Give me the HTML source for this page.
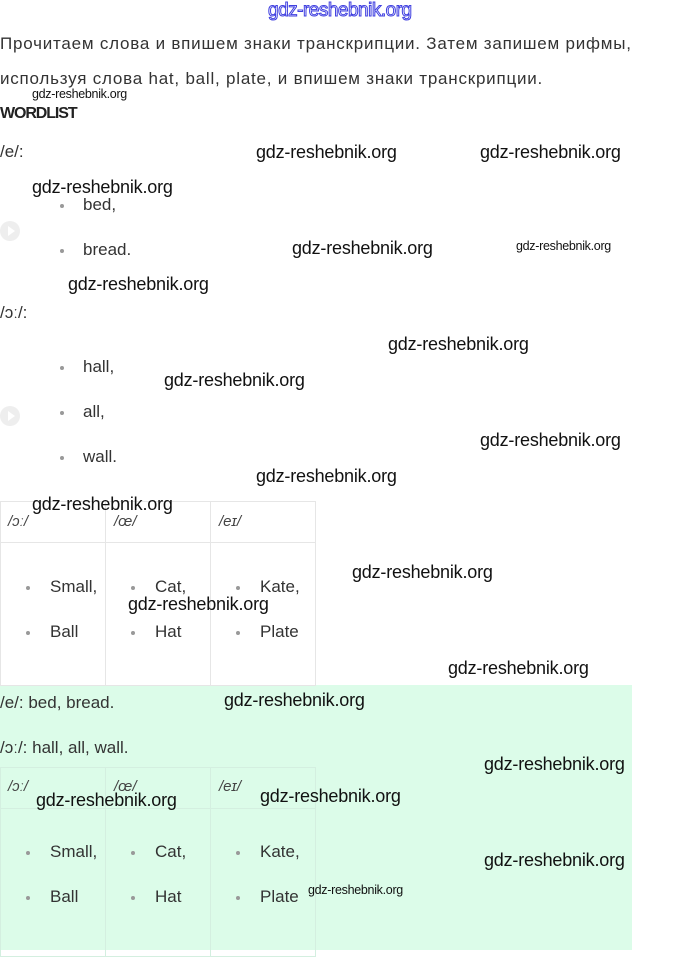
<!DOCTYPE html>
<html><head><meta charset="utf-8"><style>
*{margin:0;padding:0;box-sizing:border-box}
body{width:680px;height:950px;background:#fff;position:relative;overflow:hidden;font-family:"Liberation Sans","DejaVu Sans",sans-serif;color:#333}
.t{position:absolute;white-space:nowrap;font-size:17px;line-height:20px}
.w{position:absolute;white-space:nowrap;font-size:18px;line-height:20px;color:#111;font-family:"Liberation Sans",sans-serif;letter-spacing:-0.2px}
.ws{position:absolute;white-space:nowrap;font-size:12.5px;line-height:14px;color:#111;letter-spacing:-0.3px}
.b{position:absolute;width:4px;height:4px;background:#999;border-radius:50%}
.c{position:absolute;width:20px;height:20px;border-radius:50%;background:#eee}
.c:after{content:"";position:absolute;left:8px;top:5px;border-left:7px solid #fff;border-top:5px solid transparent;border-bottom:5px solid transparent}
.tb{position:absolute;left:0;width:316px;border:1px solid #e6e6e6}
.vl{position:absolute;width:1px;background:#e6e6e6}
.hl{position:absolute;height:1px;background:#e6e6e6}
.h{position:absolute;font-size:15px;font-style:italic;line-height:16px;color:#444}
</style></head><body>
<div style="position:absolute;left:0;top:685px;width:632px;height:265px;background:#dcfce9"></div>

<div class="w" style="left:268px;top:1px;color:#fff;-webkit-text-stroke:1px #4040e0;font-size:19px;letter-spacing:-0.5px">gdz-reshebnik.org</div>
<div class="t" style="left:0;top:34px;letter-spacing:0.78px">Прочитаем слова и впишем знаки транскрипции. Затем запишем рифмы,</div>
<div class="t" style="left:0;top:69px;letter-spacing:0.78px">используя слова hat, ball, plate, и впишем знаки транскрипции.</div>
<div class="ws" style="left:32px;top:87px">gdz-reshebnik.org</div>
<div class="t" style="left:0;top:104px;font-weight:bold;font-size:16px;letter-spacing:-1.1px;color:#222">WORDLIST</div>

<div class="t" style="left:0;top:142px">/e/:</div>
<div class="w" style="left:256px;top:142px">gdz-reshebnik.org</div>
<div class="w" style="left:480px;top:142px">gdz-reshebnik.org</div>
<div class="w" style="left:32px;top:177px">gdz-reshebnik.org</div>
<div class="b" style="left:60px;top:204px"></div><div class="t" style="left:83px;top:195px">bed,</div>
<div class="c" style="left:0;top:221px"></div>
<div class="b" style="left:60px;top:249px"></div><div class="t" style="left:83px;top:240px">bread.</div>
<div class="w" style="left:292px;top:238px">gdz-reshebnik.org</div>
<div class="ws" style="left:516px;top:239px">gdz-reshebnik.org</div>
<div class="w" style="left:68px;top:274px">gdz-reshebnik.org</div>

<div class="t" style="left:0;top:303px">/ɔː/:</div>
<div class="w" style="left:388px;top:334px">gdz-reshebnik.org</div>
<div class="b" style="left:60px;top:366px"></div><div class="t" style="left:83px;top:357px">hall,</div>
<div class="w" style="left:164px;top:370px">gdz-reshebnik.org</div>
<div class="c" style="left:0;top:406px"></div>
<div class="b" style="left:60px;top:411px"></div><div class="t" style="left:83px;top:402px">all,</div>
<div class="w" style="left:480px;top:430px">gdz-reshebnik.org</div>
<div class="b" style="left:60px;top:456px"></div><div class="t" style="left:83px;top:447px">wall.</div>
<div class="w" style="left:256px;top:466px">gdz-reshebnik.org</div>

<div class="tb" style="top:501px;height:185px"></div>
<div class="vl" style="left:105px;top:501px;height:185px"></div>
<div class="vl" style="left:210px;top:501px;height:185px"></div>
<div class="hl" style="left:0;top:542px;width:316px"></div>
<div class="h" style="left:8px;top:514px">/ɔː/</div>
<div class="h" style="left:114px;top:514px">/œ/</div>
<div class="h" style="left:219px;top:514px">/eɪ/</div>
<div class="b" style="left:26px;top:586px"></div><div class="t" style="left:50px;top:577px">Small,</div>
<div class="b" style="left:131px;top:586px"></div><div class="t" style="left:155px;top:577px">Cat,</div>
<div class="b" style="left:236px;top:586px"></div><div class="t" style="left:260px;top:577px">Kate,</div>
<div class="b" style="left:26px;top:631px"></div><div class="t" style="left:50px;top:622px">Ball</div>
<div class="b" style="left:131px;top:631px"></div><div class="t" style="left:155px;top:622px">Hat</div>
<div class="b" style="left:236px;top:631px"></div><div class="t" style="left:260px;top:622px">Plate</div>
<div class="w" style="left:32px;top:494px">gdz-reshebnik.org</div>
<div class="w" style="left:352px;top:562px">gdz-reshebnik.org</div>
<div class="w" style="left:128px;top:594px">gdz-reshebnik.org</div>
<div class="w" style="left:448px;top:658px">gdz-reshebnik.org</div>

<div class="t" style="left:0;top:693px">/e/: bed, bread.</div>
<div class="w" style="left:224px;top:690px">gdz-reshebnik.org</div>
<div class="t" style="left:0;top:738px">/ɔː/: hall, all, wall.</div>
<div class="w" style="left:484px;top:754px">gdz-reshebnik.org</div>

<div class="tb" style="top:767px;height:190px;border-color:#d4efe0"></div>
<div class="vl" style="left:105px;top:767px;height:190px;background:#d4efe0"></div>
<div class="vl" style="left:210px;top:767px;height:190px;background:#d4efe0"></div>
<div class="hl" style="left:0;top:808px;width:316px;background:#d4efe0"></div>
<div class="h" style="left:8px;top:779px">/ɔː/</div>
<div class="h" style="left:114px;top:779px">/œ/</div>
<div class="h" style="left:219px;top:779px">/eɪ/</div>
<div class="b" style="left:26px;top:851px"></div><div class="t" style="left:50px;top:842px">Small,</div>
<div class="b" style="left:131px;top:851px"></div><div class="t" style="left:155px;top:842px">Cat,</div>
<div class="b" style="left:236px;top:851px"></div><div class="t" style="left:260px;top:842px">Kate,</div>
<div class="b" style="left:26px;top:896px"></div><div class="t" style="left:50px;top:887px">Ball</div>
<div class="b" style="left:131px;top:896px"></div><div class="t" style="left:155px;top:887px">Hat</div>
<div class="b" style="left:236px;top:896px"></div><div class="t" style="left:260px;top:887px">Plate</div>
<div class="w" style="left:36px;top:790px">gdz-reshebnik.org</div>
<div class="w" style="left:260px;top:786px">gdz-reshebnik.org</div>
<div class="w" style="left:484px;top:850px">gdz-reshebnik.org</div>
<div class="ws" style="left:308px;top:883px">gdz-reshebnik.org</div>
</body></html>
